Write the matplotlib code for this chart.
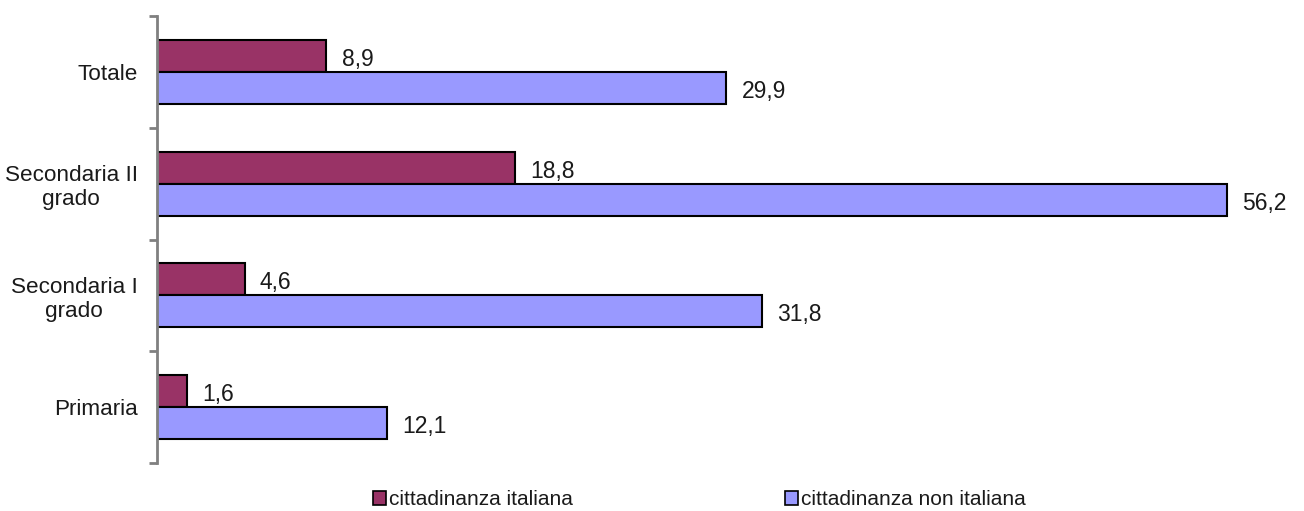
import matplotlib
matplotlib.use("Agg")
import matplotlib.pyplot as plt
import numpy as np
from matplotlib.patches import Patch

categories = ["Primaria", "Secondaria I\ngrado", "Secondaria II\ngrado", "Totale"]
italiana = [1.6, 4.6, 18.8, 8.9]
non_italiana = [12.1, 31.8, 56.2, 29.9]
series_names = ["cittadinanza italiana", "cittadinanza non italiana"]

plt.rcParams['font.family'] = ['Liberation Sans', 'DejaVu Sans']

fig = plt.figure(figsize=(13.04, 5.11), dpi=100)
ax = fig.add_axes([0.1204, 0.0939, 0.8758, 0.8748])

y = np.arange(len(categories))
h = 0.286
c1, c2 = "#993366", "#9999FF"
b1 = ax.barh(y + h / 2, italiana, height=h, color=c1, edgecolor="black", linewidth=1.5)
b2 = ax.barh(y - h / 2, non_italiana, height=h, color=c2, edgecolor="black", linewidth=1.5)

def fmt(v):
    return f"{v:.1f}".replace(".", ",")

for bars, vals in ((b1, italiana), (b2, non_italiana)):
    for bar, v in zip(bars, vals):
        ax.annotate(fmt(v), xy=(v, bar.get_y() + bar.get_height() / 2),
                    xytext=(11, -2.5), textcoords="offset points",
                    ha="left", va="center", fontsize=16.5, color="#1a1a1a")

ax.set_xlim(0, 60)
ax.set_ylim(-0.5, 3.5)
ax.set_xticks([])
for s in ("top", "right", "bottom"):
    ax.spines[s].set_visible(False)
ax.spines["left"].set_color("#808080")
ax.spines["left"].set_linewidth(2)

ax.set_yticks(y)
ax.set_yticklabels(categories, fontsize=16.2, color="#1a1a1a", multialignment="center")
ax.tick_params(axis="y", which="major", length=0, pad=14)
ax.set_yticks(np.arange(-0.5, 3.6, 1.0), minor=True)
ax.tick_params(axis="y", which="minor", length=6, width=2, color="#808080")

handles = [Patch(facecolor=c1, edgecolor="black", linewidth=1.2),
           Patch(facecolor=c2, edgecolor="black", linewidth=1.2)]
fig.legend(handles, series_names, loc="center", bbox_to_anchor=(0.5365, 0.022),
           ncol=2, frameon=False, fontsize=15, handlelength=0.6, handleheight=0.6,
           handletextpad=0.15, columnspacing=10.2, labelcolor="#1a1a1a")

fig.savefig("out.png", dpi=100)
